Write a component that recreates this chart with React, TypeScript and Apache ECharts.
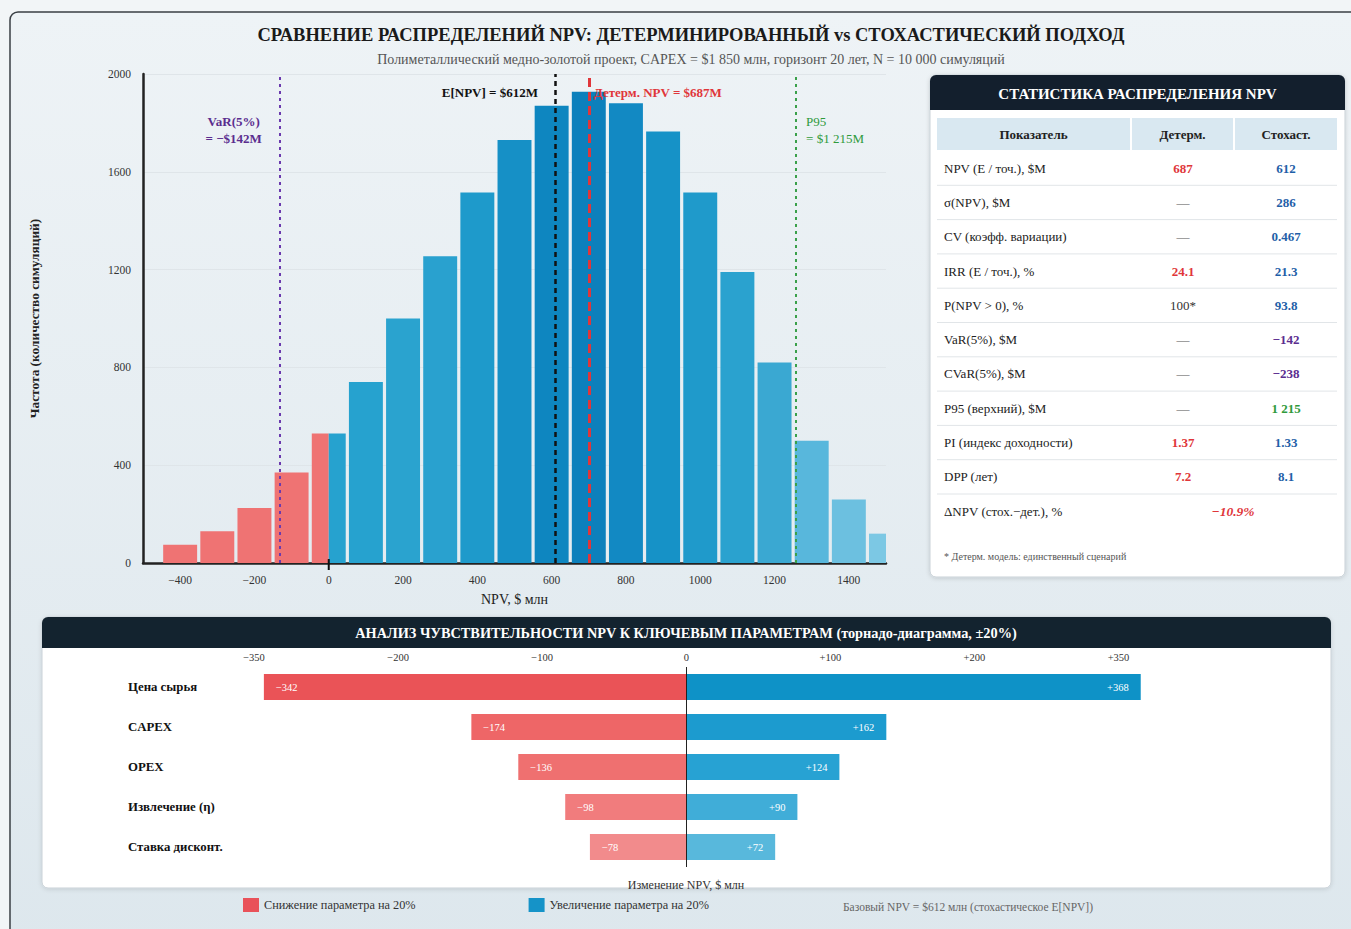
import React, { useEffect, useRef } from 'react';
import * as echarts from 'echarts';

// ---------- DATA ----------
const binCenters = [-400, -300, -200, -100, 0, 100, 200, 300, 400, 500, 600, 700, 800, 900, 1000, 1100, 1200, 1300, 1400, 1500];
const binCounts = [75, 130, 225, 370, 530, 740, 1000, 1255, 1515, 1730, 1870, 1927, 1880, 1765, 1515, 1190, 820, 500, 260, 120];
const binWidth = 100;
const histXTickLabels = [-400, -200, 0, 200, 400, 600, 800, 1000, 1200, 1400];

const refLineNames = ['VaR', 'E', 'Det', 'P95'];
const refLineValues = [-132, 609, 700, 1258];
const refLineTexts = [['VaR(5%)', '= −$142M'], ['E[NPV] = $612M'], ['Детерм. NPV = $687M'], ['P95', '= $1 215M']];
const refLineLabelLevels = [1772, 1923, 1923, 1772];

const tornadoParams = ['Цена сырья', 'CAPEX', 'OPEX', 'Извлечение (η)', 'Ставка дисконт.'];
const tornadoDown = [-342, -174, -136, -98, -78];
const tornadoUp = [368, 162, 124, 90, 72];
const tornadoTickLabels = ['−350', '−200', '−100', '0', '+100', '+200', '+350'];

const statLabels = ['NPV (E / точ.), $M', 'σ(NPV), $M', 'CV (коэфф. вариации)', 'IRR (E / точ.), %', 'P(NPV > 0), %', 'VaR(5%), $M', 'CVaR(5%), $M', 'P95 (верхний), $M', 'PI (индекс доходности)', 'DPP (лет)'];
const statDet = ['687', '—', '—', '24.1', '100*', '—', '—', '—', '1.37', '7.2'];
const statStoch = ['612', '286', '0.467', '21.3', '93.8', '−142', '−238', '1 215', '1.33', '8.1'];
const deltaLabel = 'ΔNPV (стох.−дет.), %';
const deltaValue = '−10.9%';

// ---------- STYLE ----------
const SERIF = '"Liberation Serif", "DejaVu Serif", "Times New Roman", serif';
const RED = '#e0363a';
const BLUE = '#1f5fa8';
const PURPLE = '#5b2d8f';
const GREEN = '#2f9a3c';
const histBlues = ['#26a2cf', '#2aa3cf', '#29a1cf', '#1e9acb', '#1690c6', '#0e86c0', '#0c80bc', '#1289c3', '#1692c7', '#1f9acb', '#2aa2cf', '#3aa8d2', '#58b7dc', '#6cc0e0', '#7cc8e4'];
const histRed = '#ef7373';
const redShades = ['#ea5357', '#ee6667', '#ef7070', '#f17c7d', '#f28b8c'];
const blueShades = ['#0e92c7', '#1c9bcf', '#27a2d3', '#40add8', '#58b8dc'];
const refStyles: Record<string, any> = {
  VaR: { color: '#6a3aae', type: [3, 4], width: 2, text: PURPLE, align: 'center', offset: [-46, 0] },
  E: { color: '#111', type: [5, 4], width: 2.5, text: '#111', align: 'right', offset: [-17, 0] },
  Det: { color: '#e0363a', type: [9, 5], width: 3, text: RED, align: 'left', offset: [5, 0] },
  P95: { color: '#3aa04a', type: [3, 4], width: 2, text: GREEN, align: 'left', offset: [10, 0] },
};

export default function App() {
  const ref = useRef<HTMLDivElement>(null);
  useEffect(() => {
    if (!ref.current) return;
    const chart = echarts.init(ref.current, null, { renderer: 'svg' });

    // histogram items, split at zero
    const histData: any[] = [];
    binCenters.forEach((c, i) => {
      const a = c - binWidth / 2;
      const b = c + binWidth / 2;
      if (a < 0 && b > 0) {
        histData.push([a, 0, binCounts[i], 0, i]);
        histData.push([0, b, binCounts[i], 1, i]);
      } else {
        histData.push([a, b, binCounts[i], b <= 0 ? 0 : 1, i]);
      }
    });
    const isEdge = (v: number) => Math.abs((((v % binWidth) + binWidth) % binWidth) - binWidth / 2) < 1e-6;

    const textEl = (text: string, x: number, y: number, o: any = {}) => ({
      type: 'text',
      z: 50,
      silent: true,
      style: {
        text, x, y,
        fill: o.fill || '#222',
        fontSize: o.fontSize || 13,
        fontFamily: SERIF,
        fontWeight: o.fontWeight || 'normal',
        fontStyle: o.fontStyle || 'normal',
        align: o.align || 'left',
        verticalAlign: 'middle',
        textAlign: o.align || 'left',
        textVerticalAlign: 'middle',
      },
    });

    const graphics: any[] = [];
    // page background & container
    graphics.push({ type: 'rect', z: -100, silent: true, shape: { x: 0, y: 0, width: 1351, height: 929 }, style: { fill: '#f2f5f7' } });
    graphics.push({
      type: 'rect', z: -99, silent: true,
      shape: { x: 10, y: 12, width: 1370, height: 940, r: 8 },
      style: {
        fill: new echarts.graphic.LinearGradient(0, 0, 0, 1, [{ offset: 0, color: '#eef3f6' }, { offset: 1, color: '#dde7ed' }]),
        stroke: '#3a3f44', lineWidth: 1.5,
      },
    });
    // table panel
    const tx = 930, ty = 75, tw = 415, th = 502;
    graphics.push({ type: 'rect', z: -50, silent: true, shape: { x: tx, y: ty, width: tw, height: th, r: 6 }, style: { fill: '#fff', stroke: '#c9d1d7', lineWidth: 1, shadowBlur: 4, shadowColor: 'rgba(0,0,0,0.15)', shadowOffsetY: 1 } });
    graphics.push({ type: 'rect', z: -49, silent: true, shape: { x: tx, y: ty, width: tw, height: 35, r: [6, 6, 0, 0] }, style: { fill: '#131f2d' } });
    graphics.push(textEl('СТАТИСТИКА РАСПРЕДЕЛЕНИЯ NPV', tx + tw / 2, ty + 19, { fill: '#fff', fontSize: 15, fontWeight: 'bold', align: 'center' }));
    const cols = [{ x: 937, w: 193 }, { x: 1132, w: 101 }, { x: 1235, w: 102 }];
    const heads = ['Показатель', 'Детерм.', 'Стохаст.'];
    cols.forEach((c, i) => {
      graphics.push({ type: 'rect', z: -48, silent: true, shape: { x: c.x, y: 118, width: c.w, height: 32 }, style: { fill: '#d9e8f1' } });
      graphics.push(textEl(heads[i], c.x + c.w / 2, 134, { fontWeight: 'bold', fontSize: 13, align: 'center' }));
    });
    const rowH = 34.3;
    const row0 = 151;
    const detColor = (v: string) => (v === '—' ? '#555' : v.endsWith('*') ? '#333' : RED);
    const stochColor = (i: number) => (i === 5 || i === 6 ? PURPLE : i === 7 ? GREEN : BLUE);
    statLabels.forEach((lab, i) => {
      const cy = row0 + rowH * i + rowH / 2;
      graphics.push(textEl(lab, 944, cy, { fontSize: 13 }));
      const d = statDet[i];
      graphics.push(textEl(d, 1183, cy, { fill: detColor(d), fontWeight: d === '—' || d.endsWith('*') ? 'normal' : 'bold', align: 'center', fontSize: 13 }));
      graphics.push(textEl(statStoch[i], 1286, cy, { fill: stochColor(i), fontWeight: 'bold', align: 'center', fontSize: 13 }));
      graphics.push({ type: 'line', z: -47, silent: true, shape: { x1: 937, y1: row0 + rowH * (i + 1), x2: 1337, y2: row0 + rowH * (i + 1) }, style: { stroke: '#e1e5e8', lineWidth: 1 } });
    });
    const dy = row0 + rowH * 10 + rowH / 2;
    graphics.push(textEl(deltaLabel, 944, dy, { fontSize: 13 }));
    graphics.push(textEl(deltaValue, 1233, dy, { fill: RED, fontWeight: 'bold', fontStyle: 'italic', align: 'center', fontSize: 13.5 }));
    graphics.push(textEl('* Детерм. модель: единственный сценарий', 944, 556, { fontSize: 10, fill: '#555' }));

    // tornado panel
    graphics.push({ type: 'rect', z: -50, silent: true, shape: { x: 42, y: 617, width: 1289, height: 271, r: 6 }, style: { fill: '#fff', stroke: '#c9d1d7', lineWidth: 1, shadowBlur: 4, shadowColor: 'rgba(0,0,0,0.12)', shadowOffsetY: 1 } });
    graphics.push({ type: 'rect', z: -49, silent: true, shape: { x: 42, y: 617, width: 1289, height: 31, r: [6, 6, 0, 0] }, style: { fill: '#13232f' } });
    graphics.push(textEl('АНАЛИЗ ЧУВСТВИТЕЛЬНОСТИ NPV К КЛЮЧЕВЫМ ПАРАМЕТРАМ (торнадо-диаграмма, ±20%)', 686, 633, { fill: '#fff', fontSize: 14.3, fontWeight: 'bold', align: 'center' }));
    graphics.push(textEl('Изменение NPV, $ млн', 686, 885, { fontSize: 12, fill: '#333', align: 'center' }));
    graphics.push(textEl('Базовый NPV = $612 млн (стохастическое E[NPV])', 843, 907, { fontSize: 11.5, fill: '#666' }));

    const tInt = 350 / 3;

    const option: any = {
      animation: false,
      textStyle: { fontFamily: SERIF },
      title: [
        { text: 'СРАВНЕНИЕ РАСПРЕДЕЛЕНИЙ NPV: ДЕТЕРМИНИРОВАННЫЙ vs СТОХАСТИЧЕСКИЙ ПОДХОД', left: 686, textAlign: 'center', top: 20, textStyle: { fontFamily: SERIF, fontSize: 18.5, fontWeight: 'bold', color: '#1a1a1a' } },
        { text: 'Полиметаллический медно-золотой проект, CAPEX = $1 850 млн, горизонт 20 лет, N = 10 000 симуляций', left: 686, textAlign: 'center', top: 47, textStyle: { fontFamily: SERIF, fontSize: 14, fontWeight: 'normal', color: '#555' } },
      ],
      legend: {
        data: ['Снижение параметра на 20%', 'Увеличение параметра на 20%'],
        left: 243, top: 898, padding: 0, icon: 'rect', itemWidth: 16, itemHeight: 14, itemGap: 113,
        textStyle: { fontFamily: SERIF, fontSize: 12.3, color: '#333' },
        selectedMode: false,
      },
      grid: [
        { left: 143, top: 74, width: 743, height: 489 },
        { left: 254, top: 667, width: 816.67 * 1.235, height: 200 },
      ],
      xAxis: [
        {
          gridIndex: 0, type: 'value', min: -500, max: 1500, interval: 100,
          axisLine: { show: true, onZero: false, lineStyle: { color: '#222', width: 2.5 } },
          axisTick: { show: false }, splitLine: { show: false },
          axisLabel: { fontSize: 11.5, color: '#333', margin: 11, fontFamily: SERIF, formatter: (v: number) => (histXTickLabels.includes(v) ? (v < 0 ? '−' + Math.abs(v) : String(v)) : '') },
          name: 'NPV, $ млн', nameLocation: 'middle', nameGap: 29,
          nameTextStyle: { fontSize: 14, color: '#222', fontFamily: SERIF },
        },
        {
          gridIndex: 1, type: 'value', position: 'top', min: -350, max: 350 + tInt, interval: tInt,
          axisLine: { show: false }, axisTick: { show: false }, splitLine: { show: false },
          axisLabel: { fontSize: 10.5, color: '#333', margin: 4, fontFamily: SERIF, formatter: (v: number) => tornadoTickLabels[Math.round(v / tInt) + 3] || '' },
        },
      ],
      yAxis: [
        {
          gridIndex: 0, type: 'value', min: 0, max: 2000, interval: 400,
          axisLine: { show: true, onZero: false, lineStyle: { color: '#222', width: 2.5 } },
          axisTick: { show: false },
          splitLine: { show: true, lineStyle: { color: '#dfe5e9', width: 1 } },
          axisLabel: { fontSize: 11.5, color: '#333', margin: 12, fontFamily: SERIF, formatter: (v: number) => String(v) },
          name: 'Частота (количество симуляций)', nameLocation: 'middle', nameRotate: 90, nameGap: 102,
          nameTextStyle: { fontSize: 13.3, color: '#222', fontWeight: 'bold', fontFamily: SERIF },
        },
        {
          gridIndex: 1, type: 'category', inverse: true, data: tornadoParams,
          axisLine: { show: false, onZero: false }, axisTick: { show: false }, splitLine: { show: false },
          axisLabel: { align: 'left', margin: 126, fontSize: 12.8, fontWeight: 'bold', color: '#111', fontFamily: SERIF },
        },
      ],
      series: [
        {
          type: 'custom', xAxisIndex: 0, yAxisIndex: 0, data: histData, encode: { x: [0, 1], y: 2 }, silent: true,
          renderItem: (params: any, api: any) => {
            const x0 = api.value(0), x1 = api.value(1), c = api.value(2), kind = api.value(3), idx = api.value(4);
            const tl = api.coord([x0, c]);
            const br = api.coord([x1, 0]);
            const inL = isEdge(x0) ? 1.6 : 0;
            const inR = isEdge(x1) ? 1.6 : 0;
            const cs = params.coordSys;
            const rect = echarts.graphic.clipRectByRect(
              { x: tl[0] + inL, y: tl[1], width: br[0] - tl[0] - inL - inR, height: br[1] - tl[1] },
              { x: cs.x, y: cs.y, width: cs.width, height: cs.height }
            );
            if (!rect) return null;
            const fill = kind === 0 ? histRed : histBlues[Math.max(0, idx - 5)];
            return { type: 'rect', shape: rect, style: { fill } };
          },
          markLine: {
            silent: true, symbol: ['none', 'none'], label: { show: false },
            data: refLineNames.map((n, i) => ({ xAxis: refLineValues[i], lineStyle: { color: refStyles[n].color, type: refStyles[n].type, width: refStyles[n].width } })),
          },
          markPoint: {
            silent: true,
            data: refLineNames.map((n, i) => ({
              coord: [refLineValues[i], refLineLabelLevels[i]], symbol: 'rect', symbolSize: 1,
              itemStyle: { color: 'rgba(0,0,0,0)' },
              label: {
                show: true, position: 'inside', align: refStyles[n].align, offset: refStyles[n].offset,
                formatter: refLineTexts[i].join('\n'), color: refStyles[n].text,
                fontSize: 13, fontWeight: i === 3 ? 'normal' : 'bold',
                lineHeight: 17, fontFamily: SERIF,
              },
            })),
          },
        },
        {
          type: 'bar', name: 'Снижение параметра на 20%', xAxisIndex: 1, yAxisIndex: 1, barWidth: 26, barGap: '-100%',
          itemStyle: { color: '#e9525a' },
          data: tornadoDown.map((v, i) => ({ value: v, itemStyle: { color: redShades[i] } })),
          label: { show: true, position: 'insideLeft', distance: 12, color: '#fff', fontSize: 10.5, fontFamily: SERIF, formatter: (p: any) => '−' + Math.abs(p.value) },
          markLine: { silent: true, symbol: ['none', 'none'], label: { show: false }, data: [{ xAxis: 0 }], lineStyle: { color: '#222', type: 'solid', width: 1 } },
        },
        {
          type: 'bar', name: 'Увеличение параметра на 20%', xAxisIndex: 1, yAxisIndex: 1, barWidth: 26, barGap: '-100%',
          itemStyle: { color: '#1593c8' },
          data: tornadoUp.map((v, i) => ({ value: v, itemStyle: { color: blueShades[i] } })),
          label: { show: true, position: 'insideRight', distance: 12, color: '#fff', fontSize: 10.5, fontFamily: SERIF, formatter: (p: any) => '+' + p.value },
        },
      ],
      graphic: { elements: graphics },
    };
    chart.setOption(option);
    const z = chart.convertToPixel({ xAxisIndex: 0, yAxisIndex: 0 }, [0, 0]) as number[];
    if (z) {
      chart.setOption({ graphic: { elements: [...graphics, { type: 'line', z: 60, silent: true, shape: { x1: z[0], y1: z[1] - 4, x2: z[0], y2: z[1] + 7 }, style: { stroke: '#111', lineWidth: 2 } }] } });
    }
    return () => chart.dispose();
  }, []);
  return <div ref={ref} style={{ position: 'absolute', left: 0, top: 0, width: 1351, height: 929 }} />;
}
